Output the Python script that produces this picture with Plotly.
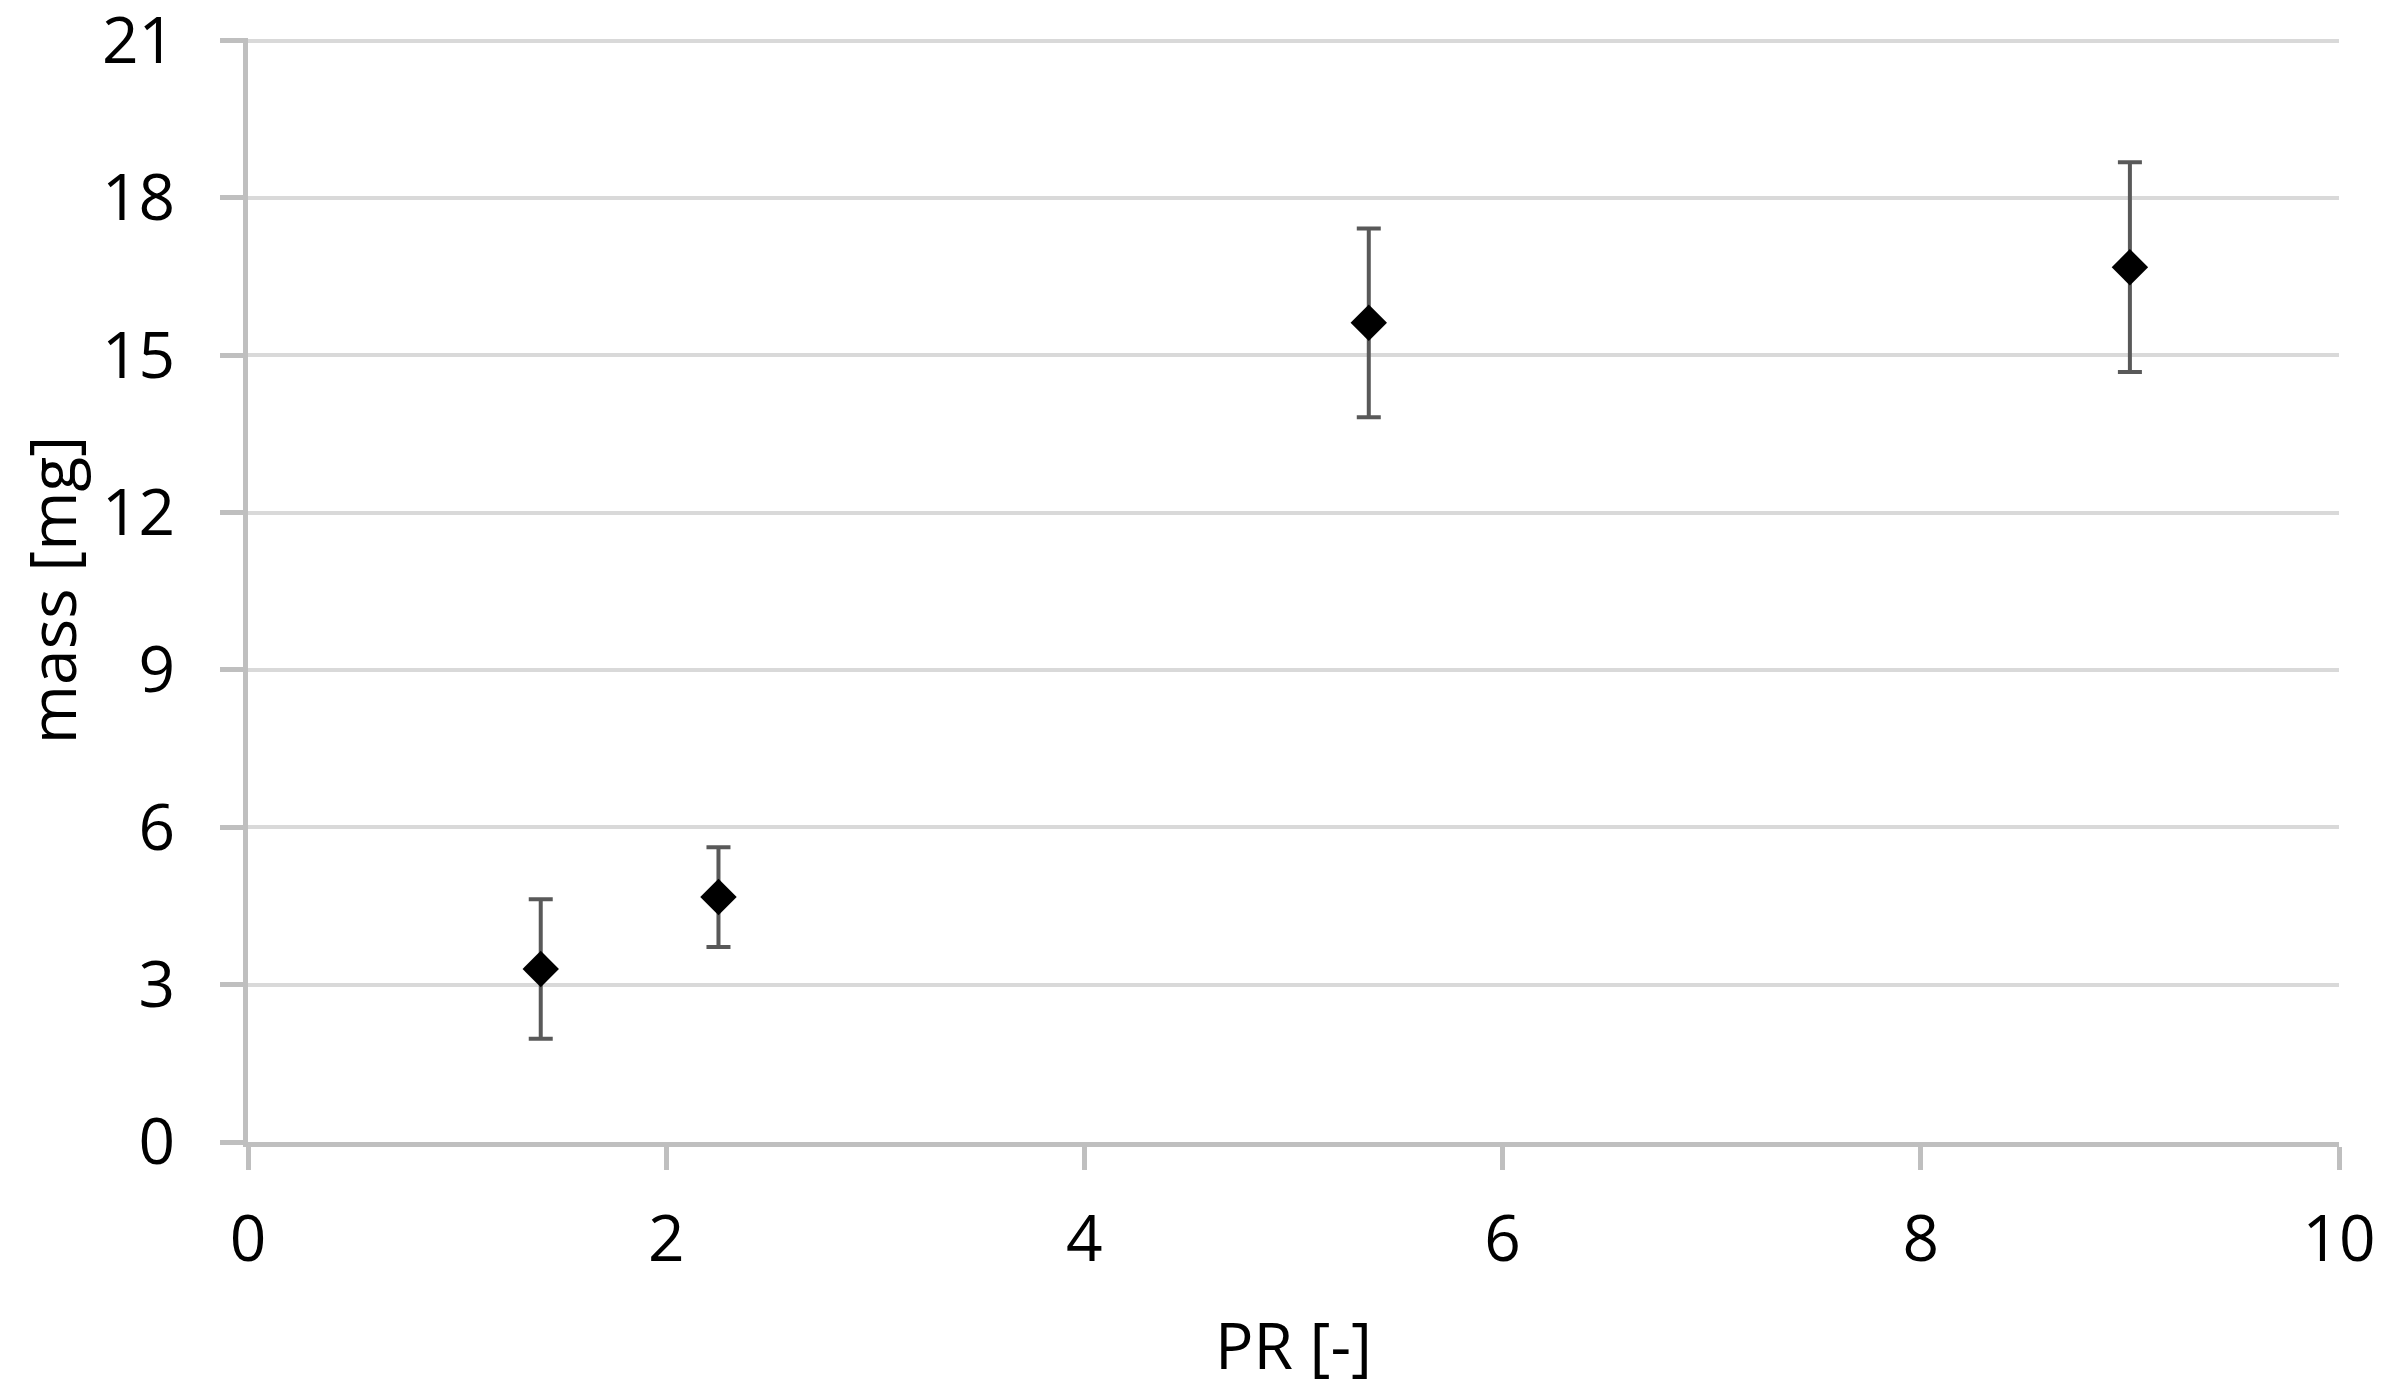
import plotly.graph_objects as go

pr = [1.4, 2.25, 5.36, 9.0]
mass = [3.30, 4.67, 15.62, 16.68]
err = [1.33, 0.95, 1.80, 2.00]

x_ticks = [0, 2, 4, 6, 8, 10]
y_ticks = [0, 3, 6, 9, 12, 15, 18, 21]

FONT = "Open Sans"
AX = "#bfbfbf"

fig = go.Figure()
fig.add_trace(go.Scatter(
    x=pr, y=mass, mode="markers",
    marker=dict(symbol="diamond", size=28, color="black"),
    error_y=dict(type="data", array=err, visible=True,
                 color="#595959", thickness=4, width=12),
    showlegend=False,
))

# page body has an 8px margin; figure sized to fit the window
fig.update_layout(
    width=2387, height=1388,
    margin=dict(l=240, r=56, t=30, b=254),
    paper_bgcolor="white", plot_bgcolor="white",
    font=dict(family=FONT, size=64, color="black"),
)
fig.update_xaxes(
    range=[0, 10], tickvals=x_ticks, ticktext=[str(v) for v in x_ticks],
    showgrid=False, zeroline=False, automargin=False,
    showline=True, linecolor=AX, linewidth=5,
    ticks="outside", ticklen=23, tickwidth=5, tickcolor=AX,
    ticklabelstandoff=14, ticklabeloverflow="allow",
    title=dict(text="PR [-]", standoff=47, font=dict(family=FONT, size=64)),
    tickfont=dict(family=FONT, size=64),
)
fig.update_yaxes(
    range=[0, 21.05], tickvals=y_ticks, ticktext=[str(v) for v in y_ticks],
    showgrid=True, gridcolor="#d9d9d9", gridwidth=4, zeroline=False, automargin=False,
    showline=True, linecolor=AX, linewidth=5,
    ticks="outside", ticklen=23, tickwidth=5, tickcolor=AX,
    ticklabelstandoff=32, ticklabeloverflow="allow",
    title=dict(text="mass [mg]", standoff=42, font=dict(family=FONT, size=64)),
    tickfont=dict(family=FONT, size=64),
)

fig.write_html("out.html")
